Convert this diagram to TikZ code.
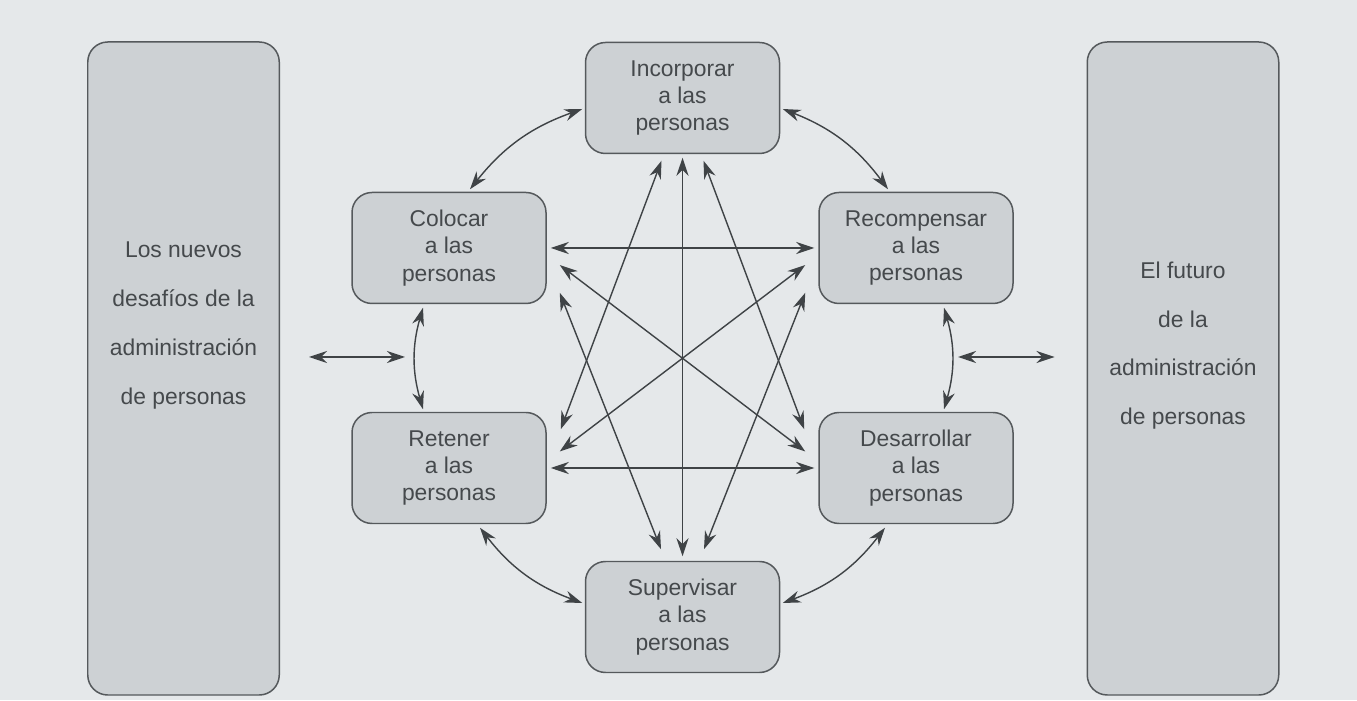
\documentclass[tikz,border=0pt]{standalone}
\usepackage{fontspec}
\setmainfont{Liberation Sans}
\usetikzlibrary{arrows.meta,calc,positioning}
\definecolor{ScanPaper}{HTML}{E5E8EA}
\definecolor{ScanFill}{HTML}{CDD1D4}
\definecolor{ScanEdge}{HTML}{55595C}
\definecolor{ScanInk}{HTML}{3F4346}
\definecolor{ScanText}{HTML}{45494C}

\begin{document}
\begin{tikzpicture}[
    hexbox/.style={
      draw=ScanEdge,
      fill=ScanFill,
      rounded corners=4mm,
      line width=0.85pt,
      minimum width=3.88cm,
      minimum height=2.22cm,
      inner sep=1mm,
      align=center,
      text=ScanText,
      font=\fontsize{13}{15.6}\selectfont
    },
    panel/.style={
      draw=ScanEdge,
      fill=ScanFill,
      rounded corners=4mm,
      line width=0.85pt,
      minimum width=3.83cm,
      minimum height=13.06cm
    },
    paneltext/.style={
      align=center,
      text=ScanText,
      inner sep=0pt,
      font=\fontsize{13}{27.7}\selectfont
    },
    link/.style={{Stealth[length=3.6mm,width=2.4mm]}-{Stealth[length=3.6mm,width=2.4mm]},line width=0.8pt,draw=ScanInk},
    arc/.style={link,bend left=16}
  ]
    \fill[ScanPaper] (0,0) rectangle (27.14,14);
    \useasboundingbox (0,0) rectangle (27.14,14);

    % side panels
    \node[panel] (desafios) at (3.67,6.63) {};
    \node[paneltext] (desafiostxt) at ([yshift=0.86cm]desafios.center)
      {Los nuevos\\desafíos de la\\administración\\de personas};
    \node[panel] (futuro) at (23.66,6.63) {};
    \node[paneltext] (futurotxt) at ([yshift=0.46cm]futuro.center)
      {El futuro\\de la\\administración\\de personas};

    % the six processes
    \node[hexbox] (inc) at (13.65,12.04) {Incorporar\\a las\\personas};
    \node[hexbox] (col) at (8.98,9.04) {Colocar\\a las\\personas};
    \node[hexbox] (rec) at (18.32,9.04) {Recompensar\\a las\\personas};
    \node[hexbox] (ret) at (8.98,4.64) {Retener\\a las\\personas};
    \node[hexbox] (des) at (18.32,4.64) {Desarrollar\\a las\\personas};
    \node[hexbox] (sup) at (13.65,1.66) {Supervisar\\a las\\personas};

    % ring of neighbours
    \draw[arc] ([shift={(0.05,-0.22)}]inc.east) to ([shift={(-0.56,0.05)}]rec.north);
    \draw[arc] ([shift={(0.56,-0.07)}]rec.south) to ([shift={(0.56,0.05)}]des.north);
    \draw[arc] ([shift={(-0.62,-0.07)}]des.south) to ([shift={(0.05,0.28)}]sup.east);
    \draw[arc] ([shift={(-0.05,0.28)}]sup.west) to ([shift={(0.62,-0.07)}]ret.south);
    \draw[arc] ([shift={(-0.52,0.05)}]ret.north) to ([shift={(-0.52,-0.07)}]col.south);
    \draw[arc] ([shift={(0.42,0.05)}]col.north) to ([shift={(-0.05,-0.22)}]inc.west);

    % cross links
    \draw[link] ([xshift=0.08cm]col.east) -- ([xshift=-0.08cm]rec.west);
    \draw[link] ([xshift=0.08cm]ret.east) -- ([xshift=-0.08cm]des.west);
    \draw[link] ([yshift=-0.07cm]inc.south) -- ([yshift=0.09cm]sup.north);
    \draw[link] ([shift={(-0.42,-0.13)}]inc.south) -- ([shift={(0.28,-0.35)}]ret.north east);
    \draw[link] ([shift={(0.42,-0.13)}]inc.south) -- ([shift={(-0.28,-0.35)}]des.north west);
    \draw[link] ([shift={(0.26,0.23)}]col.south east) -- ([shift={(-0.43,0.23)}]sup.north);
    \draw[link] ([shift={(-0.26,0.23)}]rec.south west) -- ([shift={(0.43,0.23)}]sup.north);
    \draw[link] ([shift={(0.26,-0.34)}]col.east) -- ([shift={(-0.26,0.33)}]des.west);
    \draw[link] ([shift={(-0.26,-0.34)}]rec.west) -- ([shift={(0.26,0.33)}]ret.east);

    % links to the side panels
    \coordinate (lfree) at (8.10,6.86);
    \coordinate (rfree) at (19.16,6.86);
    \draw[link,shorten <=0.58cm] (desafios.east |- lfree) -- (lfree);
    \draw[link,shorten >=0.64cm] (rfree) -- (futuro.west |- rfree);
  \end{tikzpicture}
\end{document}
